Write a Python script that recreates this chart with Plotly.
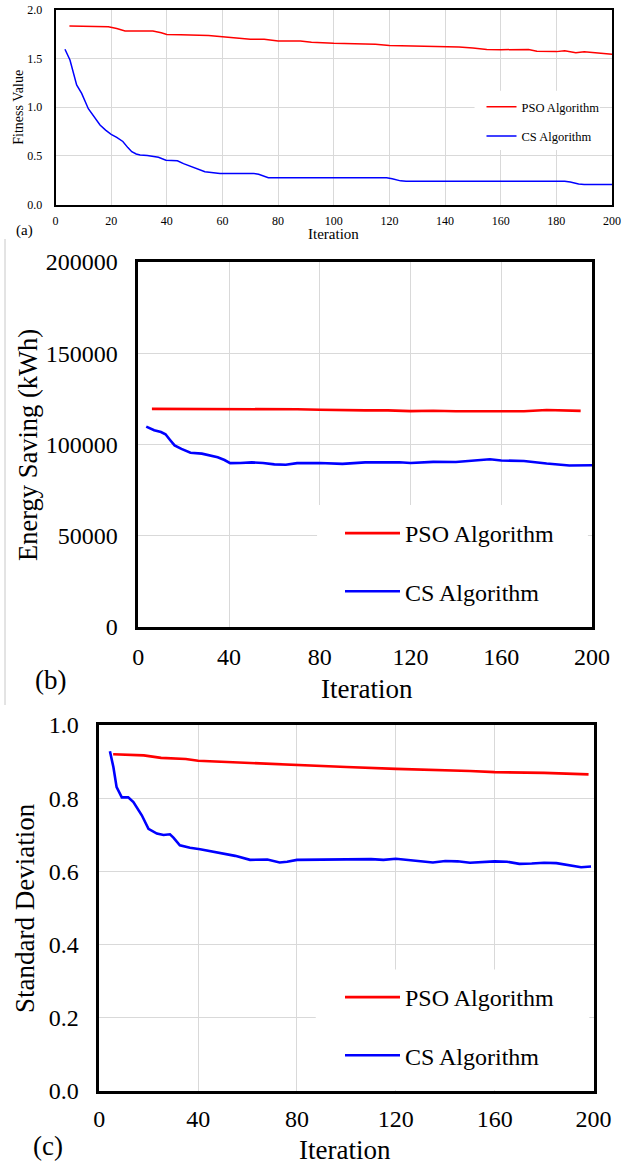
import plotly.graph_objects as go

W, H = 622, 1164
FONT = "Liberation Serif"
RED = "#ff0000"
BLUE = "#0000ff"
GRID = "#d9d9d9"

# ---------------- data ----------------
# (a) Fitness value
a_pso_iter = [5, 10, 15, 19, 22, 25, 30, 35, 38, 40, 45, 50, 55, 60, 65, 70, 75, 80, 88, 92,
              100, 105, 110, 115, 120, 130, 140, 145, 150, 155, 160, 165, 170, 173, 180, 183,
              187, 190, 195, 200]
a_pso_val = [1.835, 1.833, 1.830, 1.828, 1.810, 1.785, 1.785, 1.783, 1.765, 1.748, 1.746, 1.742,
             1.738, 1.724, 1.712, 1.699, 1.699, 1.682, 1.681, 1.668, 1.657, 1.655, 1.649, 1.647,
             1.634, 1.630, 1.626, 1.619, 1.610, 1.594, 1.592, 1.596, 1.594, 1.576, 1.572, 1.582,
             1.560, 1.570, 1.558, 1.545]
a_cs_iter = [3.4, 5.2, 7.6, 9.4, 11.8, 14, 16, 18, 20, 22, 24.2, 26, 27.4, 29, 30.4, 33, 35.8, 37,
             39.7, 43.8, 46, 49.5, 53.7, 56, 59.1, 65, 71.1, 73, 76.5, 80, 100, 119, 121, 124, 126,
             130, 140, 145, 150, 160, 170, 180, 183, 185, 188, 190, 200]
a_cs_val = [1.596, 1.486, 1.230, 1.143, 0.985, 0.890, 0.817, 0.765, 0.722, 0.690, 0.648, 0.585,
            0.543, 0.520, 0.510, 0.505, 0.495, 0.485, 0.455, 0.450, 0.420, 0.383, 0.337, 0.330,
            0.320, 0.320, 0.320, 0.310, 0.276, 0.275, 0.275, 0.275, 0.265, 0.243, 0.238, 0.240,
            0.238, 0.240, 0.238, 0.240, 0.238, 0.238, 0.240, 0.232, 0.210, 0.206, 0.206]

# (b) Energy saving (kWh)
b_pso_iter = [6, 10, 20, 40, 60, 70, 80, 90, 100, 110, 120, 130, 140, 160, 170, 180, 188, 195]
b_pso_val = [119500, 119500, 119700, 119600, 119600, 119300, 119000, 118700, 118700, 118700,
             118300, 118500, 118200, 118200, 118200, 118900, 118700, 118400]
b_cs_iter = [3.5, 7, 10, 12, 14, 16, 19, 23, 28, 31, 35, 38, 40.5, 45, 50, 55, 60, 65, 70, 80,
             90, 100, 110, 115, 120, 130, 140, 150, 155, 160, 170, 180, 190, 200]
b_cs_val = [109800, 107800, 106800, 105600, 102500, 99500, 97600, 95500, 95000, 94300, 93000,
            91500, 89800, 89900, 90200, 89900, 89100, 88900, 89800, 89900, 89400, 90200, 90500,
            90300, 89900, 90500, 90400, 91400, 91900, 91200, 91000, 89600, 88500, 88600]

# (c) Standard deviation
c_pso_iter = [5.6, 18, 25, 35, 40, 50, 60, 70, 80, 100, 120, 140, 150, 160, 180, 198]
c_pso_val = [0.920, 0.917, 0.910, 0.907, 0.902, 0.899, 0.896, 0.892, 0.889, 0.885, 0.880,
             0.877, 0.874, 0.871, 0.869, 0.865]
c_cs_iter = [4.3, 5.7, 7, 9.1, 11.7, 13.8, 17.2, 19.9, 23.3, 26, 28.6, 30, 32.6, 36.7, 40.8,
             50.2, 55, 61, 65, 68, 73, 76, 80, 90, 100, 110, 115, 120, 130, 135, 140, 145, 150,
             155, 160, 165, 170, 175, 180, 185, 190, 195, 199]
c_cs_val = [0.928, 0.885, 0.830, 0.802, 0.802, 0.789, 0.753, 0.716, 0.703, 0.699, 0.701, 0.692,
            0.671, 0.664, 0.660, 0.649, 0.642, 0.631, 0.632, 0.632, 0.624, 0.626, 0.631, 0.632,
            0.632, 0.633, 0.631, 0.634, 0.627, 0.624, 0.628, 0.627, 0.623, 0.625, 0.627, 0.626,
            0.620, 0.621, 0.623, 0.622, 0.617, 0.611, 0.613]

series_names = ["PSO Algorithm", "CS Algorithm"]

# ---------------- helpers ----------------
def px(x):
    return x / W

def py(y):
    return 1 - y / H

fig = go.Figure()

panels = [
    ("x", "y", "legend", a_pso_iter, a_pso_val, a_cs_iter, a_cs_val, 1.5),
    ("x2", "y2", "legend2", b_pso_iter, b_pso_val, b_cs_iter, b_cs_val, 2.6),
    ("x3", "y3", "legend3", c_pso_iter, c_pso_val, c_cs_iter, c_cs_val, 2.6),
]
for xa, ya, lg, pi, pv, ci, cv, lw in panels:
    fig.add_trace(go.Scatter(x=pi, y=pv, mode="lines", name=series_names[0],
                             line=dict(color=RED, width=lw), xaxis=xa, yaxis=ya,
                             legend=lg, legendgroup=lg + "p"))
    fig.add_trace(go.Scatter(x=ci, y=cv, mode="lines", name=series_names[1],
                             line=dict(color=BLUE, width=lw), xaxis=xa, yaxis=ya,
                             legend=lg, legendgroup=lg + "c"))

def xax(domain, size, lw, dtick, standoff, anchor):
    return dict(domain=domain, range=[0, 200], dtick=dtick, tick0=0, showgrid=True,
                gridcolor=GRID, gridwidth=1, zeroline=False, showline=True, linecolor="black",
                linewidth=lw, mirror=True, ticks="", ticklabelstandoff=standoff,
                tickfont=dict(family=FONT, size=size, color="black"), anchor=anchor,
                automargin=False, fixedrange=True)

def yax(domain, rng, size, lw, dtick, fmt, standoff, anchor):
    return dict(domain=domain, range=rng, dtick=dtick, tick0=0, showgrid=True,
                gridcolor=GRID, gridwidth=1, zeroline=False, showline=True, linecolor="black",
                linewidth=lw, mirror=True, ticks="", tickformat=fmt, ticklabelstandoff=standoff,
                tickfont=dict(family=FONT, size=size, color="black"), anchor=anchor,
                automargin=False, fixedrange=True)

fig.update_layout(
    template="none",
    width=W, height=H, margin=dict(l=0, r=0, t=0, b=0, pad=0), autosize=False,
    paper_bgcolor="white", plot_bgcolor="white",
    font=dict(family=FONT, color="black"),
    xaxis=xax([px(55.5), px(612)], 12, 1.5, 20, 4, "y"),
    yaxis=yax([py(204.5), py(10)], [0, 2], 12, 1.5, 0.5, ".1f", 9, "x"),
    xaxis2=xax([px(138.3), px(592)], 24, 2.6, 40, 6, "y2"),
    yaxis2=yax([py(627), py(262)], [0, 200000], 24, 2.6, 50000, "d", 13, "x2"),
    xaxis3=xax([px(99.3), px(593.5)], 24, 2.6, 40, 5, "y3"),
    yaxis3=yax([py(1090.5), py(725)], [0, 1], 24, 2.6, 0.2, ".1f", 13, "x3"),
    legend=dict(x=px(481.5), y=py(92), xanchor="left", yanchor="top", bgcolor="rgba(0,0,0,0)",
                font=dict(family=FONT, size=12.5, color="black"), traceorder="grouped",
                tracegroupgap=10, itemwidth=30, borderwidth=0),
    legend2=dict(x=px(340), y=py(511), xanchor="left", yanchor="top", bgcolor="rgba(0,0,0,0)",
                 font=dict(family=FONT, size=24, color="black"), traceorder="grouped",
                 tracegroupgap=24, itemwidth=55, borderwidth=0),
    legend3=dict(x=px(340), y=py(975), xanchor="left", yanchor="top", bgcolor="rgba(0,0,0,0)",
                 font=dict(family=FONT, size=24, color="black"), traceorder="grouped",
                 tracegroupgap=24, itemwidth=55, borderwidth=0),
)

# white areas behind legends (hide gridlines there)
shapes = [
    dict(type="rect", xref="x", yref="y", x0=150.6, x1=195.6, y0=0.56, y1=1.17,
         fillcolor="white", line=dict(width=0), layer="between"),
    dict(type="rect", xref="x2", yref="y2", x0=78.8, x1=198.2, y0=0, y1=66850,
         fillcolor="white", line=dict(width=0), layer="between"),
    dict(type="rect", xref="x3", yref="y3", x0=87.6, x1=198.3, y0=0, y1=0.331,
         fillcolor="white", line=dict(width=0), layer="between"),
    dict(type="line", xref="paper", yref="paper", x0=px(5), x1=px(5), y0=py(239), y1=py(705),
         line=dict(color="#c8c8c8", width=1)),
]
fig.update_layout(shapes=shapes)

def ann(text, x, y, size, angle=0):
    return dict(text=text, x=px(x), y=py(y), xref="paper", yref="paper", showarrow=False,
                xanchor="center", yanchor="middle", textangle=angle,
                font=dict(family=FONT, size=size, color="black"))

fig.update_layout(annotations=[
    ann("Fitness Value", 17.7, 107, 14, -90),
    ann("Iteration", 333.3, 234.5, 15),
    ann("(a)", 24, 231, 15),
    ann("Energy Saving (kWh)", 28, 445, 26.5, -90),
    ann("Iteration", 367, 689, 27),
    ann("(b)", 50, 680, 27),
    ann("Standard Deviation", 25, 908, 27, -90),
    ann("Iteration", 345.5, 1150, 27),
    ann("(c)", 47.5, 1146, 27),
])

# remove the browser's default page margin so the 622x1164 figure fills the window exactly
page_fix = ("document.body.style.margin='0';document.body.style.padding='0';"
            "document.body.style.overflow='hidden';")
fig.write_html("out.html", config={"displayModeBar": False}, post_script=page_fix)
